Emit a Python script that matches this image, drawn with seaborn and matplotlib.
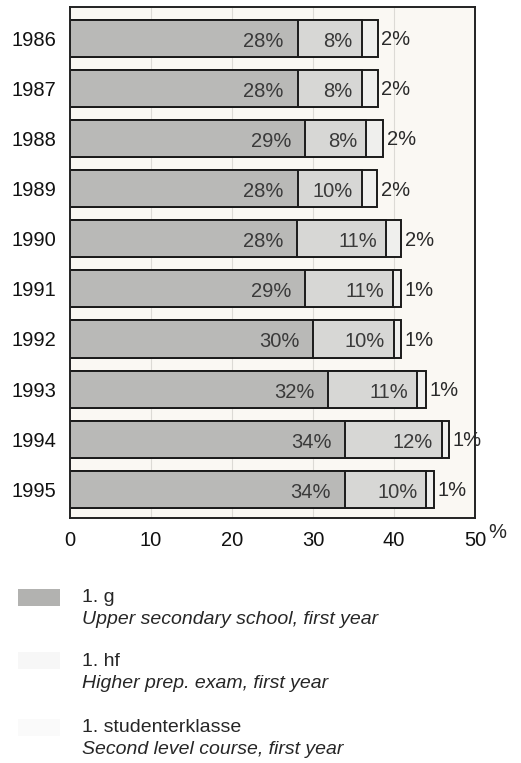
import pandas as pd
import numpy as np
import matplotlib.pyplot as plt
from matplotlib.patches import Rectangle
import seaborn as sns

years = ["1986", "1987", "1988", "1989", "1990", "1991", "1992", "1993", "1994", "1995"]
# segment lengths as drawn in the picture
g_vals = [28.1, 28.1, 29.0, 28.1, 28.0, 29.0, 30.0, 31.9, 34.0, 33.9]
hf_vals = [7.9, 7.9, 7.6, 7.9, 11.0, 10.9, 10.0, 11.0, 11.9, 10.1]
stud_vals = [2.0, 2.0, 2.1, 1.9, 1.9, 1.0, 0.9, 1.0, 0.9, 0.9]
# printed labels
g_labels = ["28%", "28%", "29%", "28%", "28%", "29%", "30%", "32%", "34%", "34%"]
hf_labels = ["8%", "8%", "8%", "10%", "11%", "11%", "10%", "11%", "12%", "10%"]
stud_labels = ["2%", "2%", "2%", "2%", "2%", "1%", "1%", "1%", "1%", "1%"]

legend_names = ["1. g", "1. hf", "1. studenterklasse"]
legend_desc = ["Upper secondary school, first year",
               "Higher prep. exam, first year",
               "Second level course, first year"]

sns.set_style("white")
plt.rcParams['font.family'] = ['Liberation Sans', 'DejaVu Sans']

df = pd.DataFrame({"year": years, "g": g_vals, "hf": hf_vals, "stud": stud_vals})
df["c1"] = df["g"]
df["c2"] = df["g"] + df["hf"]
df["c3"] = df["c2"] + df["stud"]

colors = ["#b9b9b7", "#d7d7d5", "#efefed"]

fig = plt.figure(figsize=(5.21, 7.63), dpi=100)
ax = fig.add_axes([70/521, 1-518/763, 405/521, 511/763])
ax.set_facecolor("#faf8f3")

for col, c in zip(["c3", "c2", "c1"], colors[::-1]):
    sns.barplot(data=df, x=col, y="year", orient="h", color=c, width=0.74,
                edgecolor="#1a1a1a", linewidth=1.4, saturation=1, ax=ax)

for x in [10, 20, 30, 40]:
    ax.axvline(x, color="#dcdad5", lw=0.8, zorder=0)

fs = 14.5
for i, r in df.iterrows():
    ax.text(r["c1"] - 1.7, i + 0.06, g_labels[i], ha="right", va="center",
            fontsize=fs, color="#3a3a3a")
    ax.text(r["c2"] - 1.1, i + 0.06, hf_labels[i], ha="right", va="center",
            fontsize=fs, color="#3a3a3a")
    ax.text(r["c3"] + 0.45, i + 0.03, stud_labels[i], ha="left", va="center",
            fontsize=fs, color="#2a2a2a")

ax.set_xlim(0, 50)
ax.set_ylim(9.57, -0.62)
ax.set_xticks([0, 10, 20, 30, 40, 50])
ax.tick_params(axis="both", length=0, labelsize=14.5, colors="#111111")
ax.tick_params(axis="y", pad=10)
ax.tick_params(axis="x", pad=9)
ax.set_xlabel("")
ax.set_ylabel("")
for s in ax.spines.values():
    s.set_visible(True)
    s.set_color("#222222")
    s.set_linewidth(1.4)

fig.text(497/521, 1-532/763, "%", fontsize=14.5, ha="center", va="center")

# legend
sw_cols = ["#b2b2b0", "#f7f7f7", "#fafafa"]
y0 = [598, 661, 728]
for k in range(3):
    fig.patches.append(Rectangle((18/521, 1-(y0[k]+8)/763), 42/521, 17/763,
                                 transform=fig.transFigure, facecolor=sw_cols[k],
                                 edgecolor="none"))
    fig.text(82/521, 1-y0[k]/763, legend_names[k], fontsize=14,
             ha="left", va="center")
    fig.text(82/521, 1-(y0[k]+22)/763, legend_desc[k], fontsize=14,
             style="italic", ha="left", va="center")

fig.savefig("out.png", dpi=100)
